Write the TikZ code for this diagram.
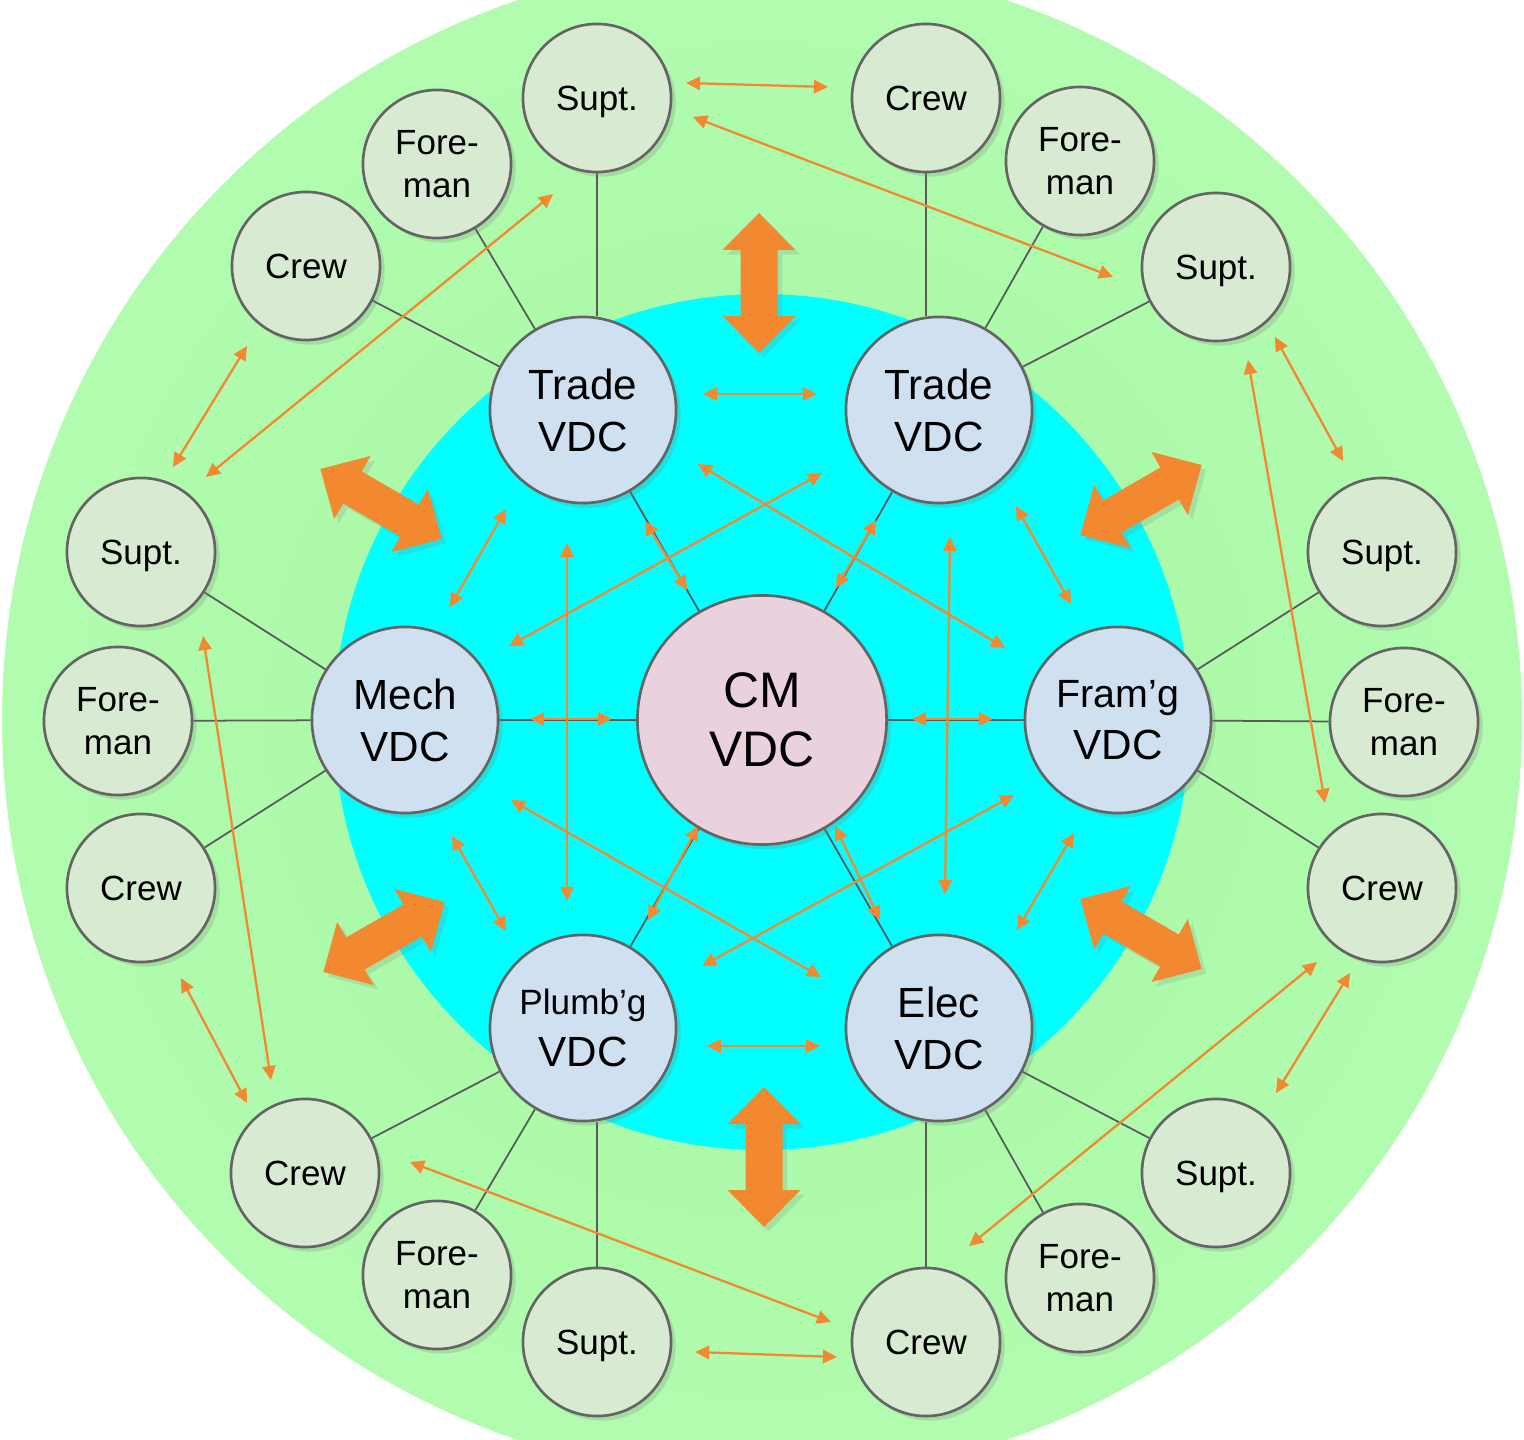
\documentclass[tikz,border=0pt]{standalone}
\usepackage{fontspec}
\setmainfont{Liberation Sans}
\usetikzlibrary{arrows.meta,shadows}

\definecolor{bggreen}{RGB}{164,248,160}
\definecolor{bggreenout}{RGB}{178,252,176}
\definecolor{cyanbg}{RGB}{0,255,255}
\definecolor{vdcblue}{RGB}{207,224,241}
\definecolor{cmpink}{RGB}{233,210,222}
\definecolor{outergreen}{RGB}{217,234,211}
\definecolor{bordergray}{RGB}{100,100,100}
\definecolor{linegray}{RGB}{90,90,90}
\definecolor{orangeA}{RGB}{242,137,48}

\pgfdeclarelayer{front}
\pgfsetlayers{main,front}

\tikzset{
  bub/.style={circle, draw=bordergray, line width=0.75pt, inner sep=0pt, align=center,
    drop shadow={shadow xshift=1.3pt, shadow yshift=-1.3pt, opacity=0.25}},
  outc/.style={bub, fill=outergreen, minimum size=1.48cm, font=\fontsize{9.95}{12.2}\selectfont},
  suptn/.style={outc, text depth=0pt},
  vdcn/.style={bub, fill=vdcblue, minimum size=1.86cm, font=\fontsize{12}{14.8}\selectfont},
  cmn/.style={bub, fill=cmpink, minimum size=2.49cm, font=\fontsize{14.2}{16.8}\selectfont},
  lnk/.style={draw=linegray, line width=0.5pt},
  tarr/.style={draw=orangeA, line width=0.65pt,
    {Triangle[length=4pt,width=3.8pt]}-{Triangle[length=4pt,width=3.8pt]}},
  fatarr/.style={fill=orangeA,
    drop shadow={shadow xshift=1.3pt, shadow yshift=-1.3pt, opacity=0.2}}
}

\newcommand\bigdarrow[3]{%
  \begin{scope}[shift={(#1,#2)}, rotate=#3]
    \path[fatarr] (-70,0) -- (-33,36.5) -- (-33,18.5) -- (33,18.5) -- (33,36.5) -- (70,0)
      -- (33,-36.5) -- (33,-18.5) -- (-33,-18.5) -- (-33,-36.5) -- cycle;
  \end{scope}}

\begin{document}
\begin{tikzpicture}[x=0.01cm, y=-0.01cm]
\useasboundingbox (0,0) rectangle (1524,1440);
\clip (0,0) rectangle (1524,1440);

% backgrounds
\fill[white] (0,0) rectangle (1524,1440);
\shade[inner color=bggreen, outer color=bggreenout] (762,720) circle (760);
\fill[cyanbg] (762,722) circle (428);

\begin{pgfonlayer}{front}
% central and VDC nodes
\node[cmn] (cm) at (762,720) {CM\\VDC};
\node[vdcn] (tl) at (583,410) {Trade\\VDC};
\node[vdcn] (tr) at (939,410) {Trade\\VDC};
\node[vdcn] (me) at (405,720) {Mech\\VDC};
\node[vdcn] (fr) at (1118,720) {{\fontsize{11.2}{14.8}\selectfont Fram’g}\\VDC};
\node[vdcn] (pl) at (583,1028) {{\fontsize{10}{14.2}\selectfont Plumb’g}\\VDC};
\node[vdcn] (el) at (939,1028) {Elec\\VDC};

% outer nodes
\node[suptn] (tlS) at (597,98) {Supt.};
\node[outc] (tlF) at (437,164) {Fore-\\man};
\node[outc] (tlC) at (306,266) {Crew};
\node[outc] (trC) at (926,98) {Crew};
\node[outc] (trF) at (1080,161) {Fore-\\man};
\node[suptn] (trS) at (1216,267) {Supt.};
\node[suptn] (meS) at (141,552) {Supt.};
\node[outc] (meF) at (118,721) {Fore-\\man};
\node[outc] (meC) at (141,888) {Crew};
\node[suptn] (frS) at (1382,552) {Supt.};
\node[outc] (frF) at (1404,722) {Fore-\\man};
\node[outc] (frC) at (1382,888) {Crew};
\node[outc] (plC) at (305,1173) {Crew};
\node[outc] (plF) at (437,1275) {Fore-\\man};
\node[suptn] (plS) at (597,1342) {Supt.};
\node[suptn] (elS) at (1216,1173) {Supt.};
\node[outc] (elF) at (1080,1278) {Fore-\\man};
\node[outc] (elC) at (926,1342) {Crew};
\end{pgfonlayer}

% gray links
\foreach \a/\b in {cm/tl, cm/tr, cm/me, cm/fr, cm/pl, cm/el,
                   tl/tlF, tl/tlC, tr/trF, tr/trS,
                   me/meS, me/meF, me/meC, fr/frS, fr/frF, fr/frC,
                   pl/plC, pl/plF, el/elS, el/elF}
  \draw[lnk] (\a) -- (\b);
\draw[lnk] (tlS.south) -- (tlS.south |- tl.north);
\draw[lnk] (trC.south) -- (trC.south |- tr.north);
\draw[lnk] (plS.north) -- (plS.north |- pl.south);
\draw[lnk] (elC.north) -- (elC.north |- el.south);

% thick double arrows
\bigdarrow{759}{283}{90}
\bigdarrow{764}{1157}{90}
\bigdarrow{381}{504}{-30}
\bigdarrow{1141}{500}{30}
\bigdarrow{384}{937}{30}
\bigdarrow{1141}{934}{-30}

% thin double arrows
\foreach \n/\xa/\ya/\xb/\yb in {
    a1/703/394/817/394, a2/707/1046/820/1046, a3/645/521/687/590, a4/876/520/836/588,
    a5/530/719/612/719, a6/912/719/993/719, a7/648/920/698/826, a8/835/826/880/920,
    a9/698/464/1005/648, a10/822/473/509/646, a11/511/800/821/977, a12/1014/795/702/966,
    a13/567/543/567/901, a14/950/537/945/894, a15/506/509/450/607, a16/1016/506/1071/604,
    a17/452/836/506/931, a18/1074/833/1017/930,
    b1/686/83/828/87, b2/693/117/1113/277, b3/553/194/206/477, b4/247/346/173/467,
    b5/1275/337/1343/461, b6/1248/360/1325/803, b7/203/636/271/1080, b8/181/978/247/1103,
    b9/1317/962/969/1246, b10/1350/973/1276/1093, b11/410/1162/831/1322, b12/695/1352/837/1357}
{
  \coordinate (\n s) at (\xa,\ya);
  \coordinate (\n e) at (\xb,\yb);
  \draw[tarr] (\n s) -- (\n e);
}
\end{tikzpicture}
\end{document}
